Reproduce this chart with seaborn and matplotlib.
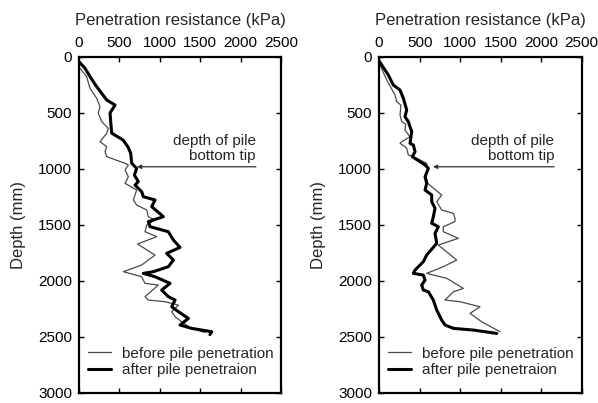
import matplotlib
matplotlib.use("Agg")
import matplotlib.pyplot as plt
import matplotlib.transforms as mtransforms
import seaborn as sns
import pandas as pd

# Cone penetration profiles: depth (mm) and resistance (kPa)
left_before_depth = [90, 100, 176, 280, 369, 443, 503, 577, 637, 681, 756, 801, 845, 890, 949, 964,
                     1009, 1069, 1128, 1188, 1277, 1322, 1366, 1426, 1456, 1500, 1560, 1604, 1670,
                     1768, 1857, 1917, 1962, 2021, 2036, 2140, 2170, 2185, 2215, 2274, 2319, 2364,
                     2420, 2460]
left_before_kpa = [5, 12, 95, 136, 219, 260, 239, 281, 363, 343, 260, 343, 322, 343, 570, 611,
                   570, 611, 570, 714, 672, 714, 838, 858, 941, 838, 817, 962, 725,
                   941, 776, 549, 776, 817, 982, 817, 858, 1065, 1230, 1147, 1189, 1271,
                   1380, 1560]

left_after_depth = [50, 100, 180, 265, 384, 429, 500, 600, 680, 741, 804, 860, 949, 994, 1054,
                    1113, 1143, 1203, 1247, 1277, 1336, 1426, 1470, 1515, 1560, 1634, 1700, 1753,
                    1813, 1872, 1917, 1932, 1962, 2021, 2081, 2140, 2170, 2230, 2274, 2334, 2393,
                    2423, 2453, 2478]
left_after_kpa = [10, 74, 140, 219, 343, 446, 384, 395, 405, 545, 607, 640, 652, 714, 685,
                  734, 693, 776, 796, 941, 900, 1044, 858, 879, 1106, 1168, 1250, 1085,
                  1168, 1106, 920, 796, 941, 1127, 1023, 1106, 1189, 1147, 1230, 1354, 1250,
                  1395, 1643, 1620]

right_before_depth = [60, 205, 339, 399, 430, 518, 577, 600, 652, 712, 756, 771, 801, 816, 875,
                      890, 949, 1009, 1069, 1128, 1158, 1232, 1292, 1366, 1396, 1441, 1470, 1515,
                      1560, 1619, 1679, 1813, 1872, 1932, 1976, 2066, 2096, 2170, 2185, 2230, 2289,
                      2364, 2453]
right_before_kpa = [5, 95, 197, 218, 270, 259, 280, 330, 320, 382, 280, 259, 320, 341, 361,
                    423, 587, 600, 580, 600, 649, 772, 711, 772, 916, 936, 936, 792,
                    792, 977, 731, 957, 792, 587, 834, 1039, 916, 813, 998, 1244, 1121,
                    1265, 1490]

right_after_depth = [40, 71, 161, 250, 295, 369, 473, 533, 577, 667, 771, 786, 845, 890, 964,
                     994, 1069, 1128, 1188, 1232, 1292, 1351, 1426, 1485, 1515, 1575, 1664, 1768,
                     1828, 1902, 1932, 1947, 1991, 2036, 2081, 2096, 2170, 2259, 2349, 2393, 2423,
                     2438, 2468]
right_after_kpa = [5, 33, 115, 176, 259, 300, 341, 320, 361, 403, 382, 423, 444, 410, 567,
                   608, 567, 587, 567, 649, 649, 690, 669, 649, 731, 690, 711, 587,
                   546, 444, 423, 546, 567, 526, 546, 608, 669, 711, 772, 813, 916,
                   1162, 1450]

series_labels = ["before pile penetration", "after pile penetraion"]
tick_values = [0, 500, 1000, 1500, 2000, 2500]
depth_ticks = [0, 500, 1000, 1500, 2000, 2500, 3000]

sns.set_theme(style="ticks")
plt.rcParams["font.family"] = ["Liberation Sans", "DejaVu Sans"]

fig = plt.figure(figsize=(5.98, 4.03), dpi=100)
ax_l = fig.add_axes([79 / 598, 10 / 403, 202 / 598, 336 / 403])
ax_r = fig.add_axes([379 / 598, 10 / 403, 203 / 598, 336 / 403])

panels = [
    (ax_l, (left_before_depth, left_before_kpa), (left_after_depth, left_after_kpa), 718, 2190),
    (ax_r, (right_before_depth, right_before_kpa), (right_after_depth, right_after_kpa), 665, 2156),
]

for ax, before, after, tip_x, text_x in panels:
    df_b = pd.DataFrame({"depth": before[0], "kpa": before[1]})
    df_a = pd.DataFrame({"depth": after[0], "kpa": after[1]})
    sns.lineplot(data=df_b, x="kpa", y="depth", sort=False, estimator=None, ax=ax,
                 color="#4a4a4a", linewidth=0.9, label=series_labels[0])
    sns.lineplot(data=df_a, x="kpa", y="depth", sort=False, estimator=None, ax=ax,
                 color="black", linewidth=2.2, label=series_labels[1])

    ax.set_xlim(0, 2500)
    ax.set_ylim(3000, 0)
    ax.set_xticks(tick_values)
    ax.set_yticks(depth_ticks)
    ax.xaxis.set_ticks_position("both")
    ax.yaxis.set_ticks_position("both")
    ax.tick_params(axis="both", direction="in", length=3.5, width=1.0,
                   labelsize=11, colors="black", pad=5)
    ax.tick_params(axis="x", labeltop=True, labelbottom=False)
    ax.tick_params(axis="y", labelleft=True, labelright=False)
    ax.xaxis.set_label_position("top")
    ax.set_xlabel("Penetration resistance (kPa)", fontsize=12, labelpad=8)
    ax.set_ylabel("Depth (mm)", fontsize=12, labelpad=9)
    for sp in ax.spines.values():
        sp.set_linewidth(1.6)
        sp.set_color("black")

    # arrow marking the depth reached by the pile tip
    ax.annotate("", xy=(tip_x, 980), xytext=(text_x, 980),
                arrowprops=dict(arrowstyle="-|>", color="#333333", lw=0.9,
                                mutation_scale=6, shrinkA=0, shrinkB=0))
    ax.text(text_x, 945, "depth of pile\nbottom tip", ha="right", va="bottom",
            fontsize=11, linespacing=1.1)

    ax.legend(loc="lower left", frameon=False, fontsize=11, handlelength=1.5,
              handletextpad=0.7, borderaxespad=0.2, labelspacing=0.15,
              bbox_to_anchor=(0.0, 0.02))

# keep the outermost top tick label inside the figure edge
edge_label = ax_r.xaxis.get_major_ticks()[-1].label2
edge_label.set_horizontalalignment("right")
edge_label.set_transform(edge_label.get_transform()
                         + mtransforms.ScaledTranslation(16 / 100, 0, fig.dpi_scale_trans))

fig.savefig("out.png", dpi=100)
